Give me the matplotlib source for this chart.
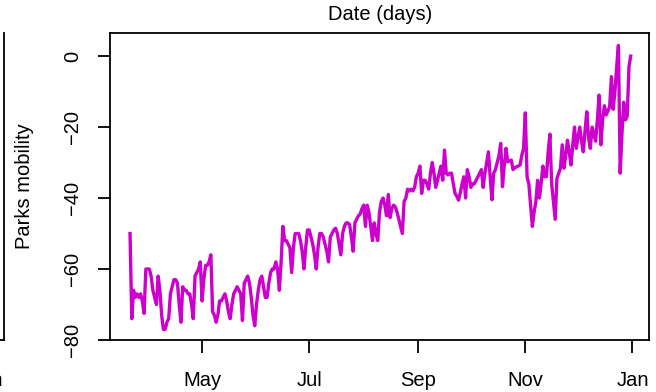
import numpy as np
import pandas as pd
import matplotlib
matplotlib.use("Agg")
import matplotlib.pyplot as plt
import matplotlib.dates as mdates
from matplotlib.lines import Line2D

START_DATE = "2020-03-21"

# daily parks mobility (% change from baseline)
parks = [
    -50, -74, -66, -68, -67, -68, -67, -69, -72.5, -60,
    -60, -60, -62, -66, -68, -70, -62, -66, -73, -77,
    -77, -75, -74, -67, -65, -63, -63, -64, -70, -75,
    -65, -66, -66, -67, -67, -70, -74, -62, -61, -60,
    -58, -69, -63, -59, -59, -58, -56, -72, -73, -75,
    -73, -69, -69, -68, -67, -69, -72, -74, -70, -67,
    -66, -65, -66, -67, -74.5, -64, -63, -62, -64, -68,
    -73, -76, -70, -66, -63, -62, -65, -68, -68, -64,
    -61, -60, -60, -58, -60, -66, -58, -48, -52, -52,
    -53, -54, -61, -54, -50, -50, -50, -52, -55, -60,
    -54, -49, -49, -51, -53, -56, -60, -54, -50, -50,
    -51, -53, -55, -58, -51, -50, -49, -48.5, -50, -53,
    -56, -50, -48, -47, -47, -47.5, -51, -55, -47, -46,
    -45, -44.5, -43, -42, -48, -42, -44, -48, -52, -47,
    -50, -52, -44, -41, -40, -42, -45, -39, -45.5, -43,
    -42, -42.5, -44, -46, -48, -50, -41, -40, -37.5, -38,
    -37.5, -38, -37, -34, -33, -31, -38.7, -35, -35, -36,
    -37.5, -33, -30, -33, -37, -35, -33, -31, -35, -26.5,
    -33, -33.5, -33, -33, -36, -38.7, -39.5, -40.6, -38.5, -36,
    -34, -40, -32, -34, -37, -36, -36, -35, -34, -33,
    -32, -37, -33, -30, -27, -34, -40.5, -33, -32, -30,
    -28, -24.6, -36.8, -31, -26, -29.8, -29.5, -29.3, -32, -31.5,
    -31.2, -31, -30.7, -28, -26, -16, -34, -36, -42, -48,
    -44, -41, -35, -40, -36, -31, -34, -34, -27, -22,
    -36, -41, -46, -34.5, -33, -31.6, -25, -31.6, -28, -23.7,
    -27, -30.7, -25, -20, -26, -23, -20, -24, -27, -21,
    -15.7, -23, -26, -20, -22, -24, -18, -11, -25, -18,
    -14, -16.6, -15.5, -14.3, -5.8, -15, -10, -3, 3, -33,
    -22, -13, -18, -17, -3, 0,
]

y_ticks = [-80, -60, -40, -20, 0]
x_tick_dates = ["2020-05-01", "2020-07-01", "2020-09-01", "2020-11-01", "2021-01-01"]

dates = pd.date_range(START_DATE, periods=len(parks), freq="D")

plt.rcParams["font.family"] = ["Liberation Sans", "DejaVu Sans"]
FS = 14.5

fig = plt.figure(figsize=(6.56, 3.92), dpi=100)
ax = fig.add_axes([110 / 656, 1 - 340 / 392, 539 / 656, 307 / 392])

ax.plot(dates, parks, color="#CD00CD", lw=2.4, solid_joinstyle="round")

# R-style 4% padding
span = dates[-1] - dates[0]
ax.set_xlim(dates[0] - span * 0.04, dates[-1] + span * 0.04 + pd.Timedelta(days=-1))
ax.set_ylim(-80, 6.5)

ax.set_yticks(y_ticks)
ax.set_yticklabels([str(v).replace("-", "\u2212") for v in y_ticks], rotation=90, va="center")
ax.set_xticks(pd.to_datetime(x_tick_dates))
ax.xaxis.set_major_formatter(mdates.DateFormatter("%b"))

ax.tick_params(axis="both", labelsize=FS, length=9, width=1.3, direction="out")
ax.tick_params(axis="x", pad=13)
ax.tick_params(axis="y", pad=11)
for s in ax.spines.values():
    s.set_linewidth(1.3)

fig.text(25 / 656, 1 - 186 / 392, "Parks mobility", rotation=90,
         ha="center", va="center", fontsize=FS)
fig.text(380 / 656, 1 - 15 / 392, "Date (days)", ha="center", va="center", fontsize=FS)

# fragment of the neighbouring panel on the left
fig.add_artist(Line2D([3.5 / 656, 3.5 / 656], [1 - 33 / 392, 1 - 340 / 392],
                      color="black", lw=1.3, transform=fig.transFigure))
fig.add_artist(Line2D([0, 3.5 / 656], [1 - 340 / 392, 1 - 340 / 392],
                      color="black", lw=1.3, transform=fig.transFigure))
fig.text(3.5 / 656, 1 - 380 / 392, "Jan", ha="right", va="center", fontsize=FS)

fig.savefig("out.png", dpi=100)
